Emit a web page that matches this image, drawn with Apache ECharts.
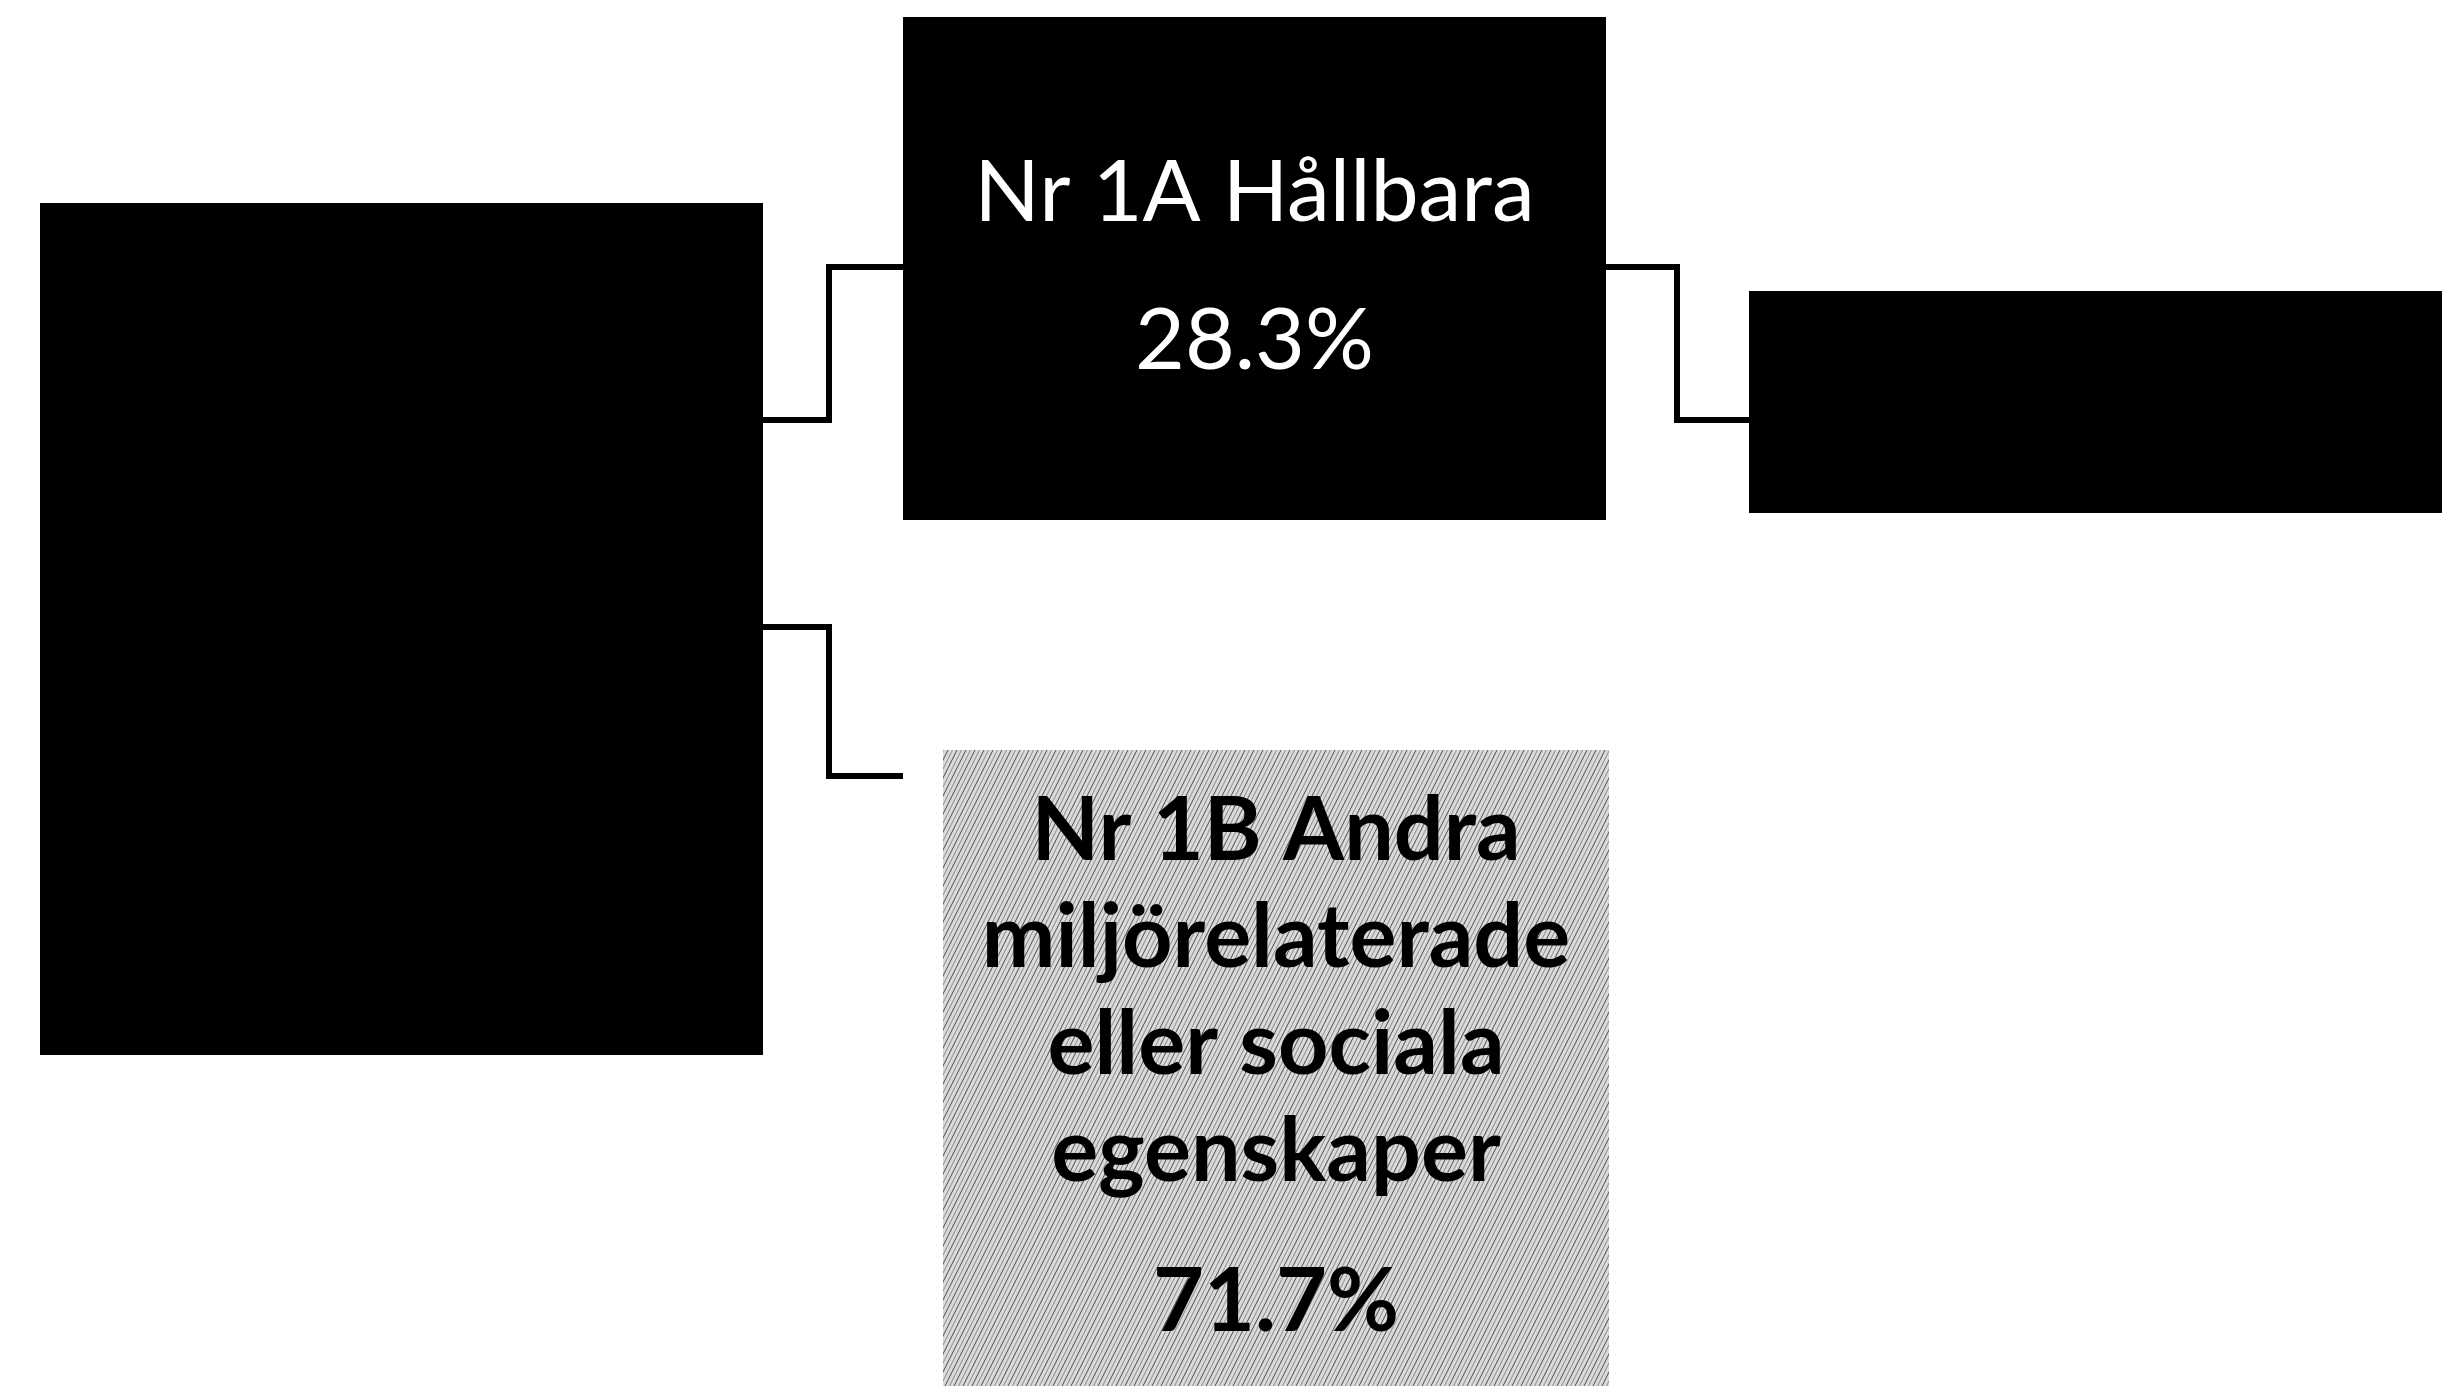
<!DOCTYPE html>
<html>
<head>
<meta charset="utf-8">
<script src="https://cdn.jsdelivr.net/npm/echarts@6/dist/echarts.min.js"></script>
<style>
html,body{margin:0;padding:0;background:#ffffff;}
#chart{width:2442px;height:1397px;}
</style>
</head>
<body>
<div id="chart"></div>
<script>
// ---------- DATA ----------
const nodeNames = ['', 'Nr 1A Hållbara', 'Nr 1B Andra\nmiljörelaterade\neller sociala\negenskaper', ''];
const nodeShares = [null, 28.3, 71.7, null];
const edgeFrom = [0, 0, 1];
const edgeTo = [1, 2, 3];

// ---------- LAYOUT (axis units, kept apart from the data) ----------
const boxX0 = [40, 903, 943, 1749];
const boxX1 = [763, 1606, 1609, 2470];
const boxY0 = [203, 17, 750, 291];
const boxY1 = [1055, 520, 1386, 513];
const nameY = [null, 193, 992, null];
const shareY = [null, 341, 1303, null];
const edgeExitY = [420, 627, 267];
const edgeEntryY = [267, 776, 420];
const edgeElbowX = [829, 829, 1677];
const edgeEndX = [903, 903, 1749];

// hatch texture for the second child box
const tile = document.createElement('canvas');
tile.width = 9; tile.height = 18;
(function () {
  const g = tile.getContext('2d');
  g.fillStyle = '#dadada';
  g.fillRect(0, 0, 9, 18);
  g.strokeStyle = '#4a4a4a';
  g.lineWidth = 1;
  [-9, 0, 9].forEach(function (o) {
    g.beginPath(); g.moveTo(o, 18); g.lineTo(o + 9, 0); g.stroke();
  });
  g.strokeStyle = '#8a8a8a';
  [-4.5, 4.5].forEach(function (o) {
    g.beginPath(); g.moveTo(o, 18); g.lineTo(o + 9, 0); g.stroke();
  });
})();
const hatch = { image: tile, repeat: 'repeat' };

const FONT = 'Lato, "Open Sans", sans-serif';

const chart = echarts.init(document.getElementById('chart'), null, { renderer: 'canvas' });

chart.setOption({
  backgroundColor: '#ffffff',
  animation: false,
  grid: { left: 0, right: 0, top: 0, bottom: 0 },
  xAxis: { type: 'value', min: 0, max: 2442, show: false },
  yAxis: { type: 'value', min: 0, max: 1397, inverse: true, show: false },
  series: [
    {
      type: 'custom',
      name: 'connectors',
      coordinateSystem: 'cartesian2d',
      data: edgeFrom.map(function (f, i) { return [f, edgeTo[i]]; }),
      renderItem: function (params, api) {
        const i = params.dataIndex;
        const f = edgeFrom[i];
        const pts = [
          api.coord([boxX1[f], edgeExitY[i]]),
          api.coord([edgeElbowX[i], edgeExitY[i]]),
          api.coord([edgeElbowX[i], edgeEntryY[i]]),
          api.coord([edgeEndX[i], edgeEntryY[i]])
        ];
        return {
          type: 'polyline',
          shape: { points: pts },
          style: { stroke: '#000', lineWidth: 6, fill: null, lineJoin: 'miter' }
        };
      },
      z: 1
    },
    {
      type: 'custom',
      name: 'boxes',
      coordinateSystem: 'cartesian2d',
      data: nodeNames.map(function (n, i) { return [i, nodeShares[i] == null ? 0 : nodeShares[i]]; }),
      renderItem: function (params, api) {
        const i = params.dataIndex;
        const p0 = api.coord([boxX0[i], boxY0[i]]);
        const p1 = api.coord([boxX1[i], boxY1[i]]);
        const dark = i !== 2;
        const children = [{
          type: 'rect',
          shape: { x: p0[0], y: p0[1], width: p1[0] - p0[0], height: p1[1] - p0[1] },
          style: { fill: dark ? '#000000' : hatch }
        }];
        if (nodeNames[i]) {
          const cx = (p0[0] + p1[0]) / 2;
          const col = dark ? '#ffffff' : '#000000';
          const weight = dark ? 'normal' : 'bold';
          const size = dark ? 86 : 88;
          children.push({
            type: 'text',
            style: {
              text: nodeNames[i],
              x: cx, y: api.coord([0, nameY[i]])[1],
              align: 'center', verticalAlign: 'middle',
              fontFamily: FONT, fontSize: size, fontWeight: weight,
              lineHeight: 107, fill: col
            }
          });
          children.push({
            type: 'text',
            style: {
              text: nodeShares[i].toFixed(1) + '%',
              x: cx, y: api.coord([0, shareY[i]])[1],
              align: 'center', verticalAlign: 'middle',
              fontFamily: FONT, fontSize: size, fontWeight: weight,
              fill: col
            }
          });
        }
        return { type: 'group', children: children };
      },
      z: 2
    }
  ]
});
</script>
</body>
</html>
